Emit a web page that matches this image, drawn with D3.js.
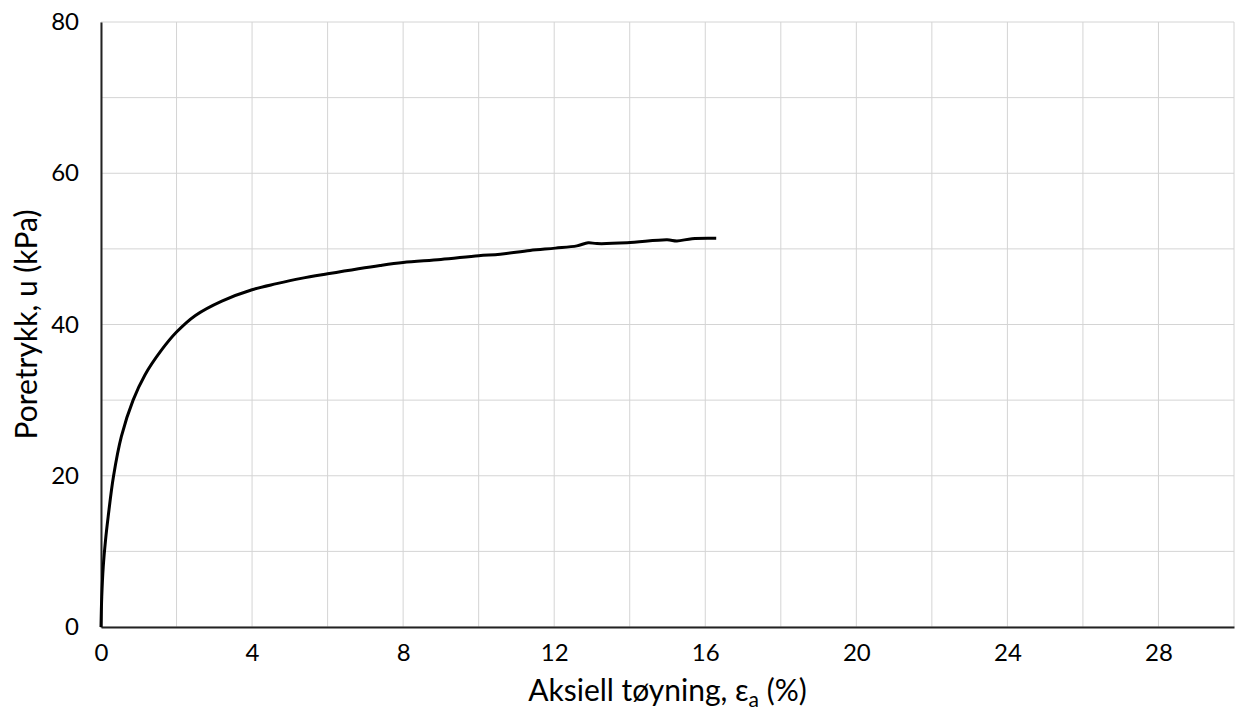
<!DOCTYPE html>
<html><head><meta charset="utf-8">
<script src="https://cdn.jsdelivr.net/npm/d3@7"></script>
<style>body{margin:0;background:#fff}svg{display:block}</style>
</head><body>
<svg id="c" width="1240" height="713"></svg>
<script>
const strain = [0, 0.02, 0.06, 0.12, 0.19, 0.33, 0.54, 0.85, 1.16, 1.6, 2.0, 2.5, 3.2, 4.0, 4.65, 5.3, 6.0, 7.39, 8.0, 9.0, 10.0, 10.57, 11.36, 12.03, 12.6, 12.9, 13.13, 13.93, 14.99, 15.25, 15.65, 16.29];
const pressure = [0, 4, 8, 11.5, 14.6, 19.9, 25.2, 30.0, 33.3, 36.6, 39.0, 41.2, 43.1, 44.6, 45.4, 46.1, 46.7, 47.8, 48.2, 48.6, 49.1, 49.3, 49.8, 50.1, 50.4, 50.8, 50.7, 50.8, 51.2, 51.05, 51.35, 51.4];
const xTicks = [0, 4, 8, 12, 16, 20, 24, 28];
const yTicks = [0, 20, 40, 60, 80];
const xGrid = d3.range(0, 31, 2);
const yGrid = d3.range(0, 81, 10);

const svg = d3.select("#c");
const L = 101, R = 1234, T = 22, B = 627;
const x = d3.scaleLinear().domain([0, 30]).range([L, R]);
const y = d3.scaleLinear().domain([0, 80]).range([B, T]);
const font = "Lato, 'Open Sans', sans-serif";

const g = svg.append("g");
g.selectAll("line.gx").data(xGrid).join("line")
  .attr("x1", d => x(d)).attr("x2", d => x(d)).attr("y1", T).attr("y2", B)
  .attr("stroke", "#d4d4d4").attr("stroke-width", 1);
g.selectAll("line.gy").data(yGrid).join("line")
  .attr("x1", L).attr("x2", R).attr("y1", d => y(d)).attr("y2", d => y(d))
  .attr("stroke", "#d4d4d4").attr("stroke-width", 1);

// axes
const xa = svg.append("g").attr("transform", `translate(0,${B})`)
  .call(d3.axisBottom(x).tickValues(xTicks).tickSize(0).tickPadding(17).tickFormat(d3.format("d")));
xa.select(".domain").attr("stroke", "#222").attr("stroke-width", 2);
xa.selectAll("text").attr("font-family", font).attr("font-size", 24).attr("fill", "#000");

const ya = svg.append("g").attr("transform", `translate(${L},0)`)
  .call(d3.axisLeft(y).tickValues(yTicks).tickSize(0).tickPadding(22).tickFormat(d3.format("d")));
ya.select(".domain").attr("stroke", "#222").attr("stroke-width", 2);
ya.selectAll("text").attr("font-family", font).attr("font-size", 24).attr("fill", "#000");

// line
const line = d3.line().x((d, i) => x(strain[i])).y(d => y(d)).curve(d3.curveCatmullRom.alpha(0.5));
svg.append("path").datum(pressure).attr("d", line)
  .attr("fill", "none").attr("stroke", "#000").attr("stroke-width", 3).attr("stroke-linejoin", "round");

// titles
const xt = svg.append("text").attr("x", (L + R) / 2).attr("y", 701)
  .attr("text-anchor", "middle").attr("font-family", font).attr("font-size", 30).attr("fill", "#000");
xt.append("tspan").text("Aksiell tøyning, ");
xt.append("tspan").text("ε");
xt.append("tspan").attr("font-size", 21).attr("dy", 6).text("a");
xt.append("tspan").attr("dy", -6).text(" (%)");

svg.append("text").attr("transform", `translate(37,${(T + B) / 2}) rotate(-90)`)
  .attr("text-anchor", "middle").attr("font-family", font).attr("font-size", 30).attr("fill", "#000")
  .text("Poretrykk, u (kPa)");
</script>
</body></html>
